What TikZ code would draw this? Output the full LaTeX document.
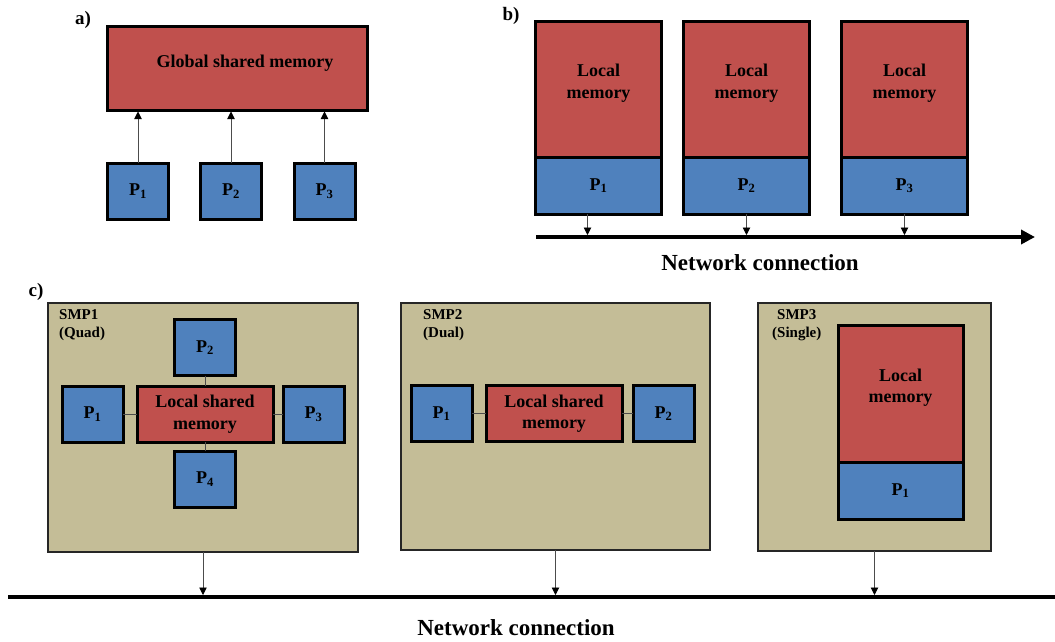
\documentclass[tikz,border=0pt]{standalone}
\usepackage{fontspec}
\setmainfont{Liberation Serif}
\usetikzlibrary{arrows.meta,calc}
\definecolor{memred}{HTML}{C0504D}
\definecolor{cpublue}{HTML}{4F81BD}
\definecolor{smptan}{HTML}{C4BD97}
\tikzset{
  boxtext/.style={font=\bfseries\fontsize{18}{21.5}\selectfont, align=center},
  unit/.style={draw=black, line width=3pt, inner sep=0pt, outer sep=0pt, boxtext},
  memblock/.style={unit, fill=memred},
  cpublock/.style={unit, fill=cpublue, minimum width=61pt, minimum height=56pt},
  smpbox/.style={draw=black!85, line width=1.2pt, fill=smptan, inner sep=0pt, outer sep=0pt, anchor=north west},
  smplabel/.style={font=\bfseries\fontsize{15}{18}\selectfont, align=left, anchor=north west, inner sep=0pt},
  panel/.style={font=\bfseries\fontsize{19}{22}\selectfont, inner sep=0pt},
  nettext/.style={font=\bfseries\fontsize{23}{26}\selectfont, inner sep=0pt},
  netline/.style={line width=4pt, black},
  link/.style={line width=1pt, black!70},
  feed/.style={line width=0.9pt, black!70, -{Triangle[length=7.5pt,width=7.5pt,color=black]}, shorten >=2pt}
}
\begin{document}
\begin{tikzpicture}[x=1pt,y=-1pt]
\useasboundingbox (0,0) rectangle (1055,641);

% ---- a) uniform shared memory ----
\node[panel] (la) at (83,20) {a)};
\node[memblock, minimum width=260pt, minimum height=84pt] (gm) at (237,68) {};
\node[boxtext, inner sep=0pt] (gmt) at (245,63) {Global shared memory};
\node[cpublock] (ap1) at (138,191) {P\textsubscript{1}};
\node[cpublock] (ap2) at (231,191) {P\textsubscript{2}};
\node[cpublock] (ap3) at (324.5,191) {P\textsubscript{3}};
\foreach \p in {ap1,ap2,ap3}
  \draw[feed, shorten >=1.5pt] (\p.north) -- (\p.north |- gm.south);

% ---- b) distributed memory ----
\node[panel] (lb) at (511,16) {b)};
\foreach \i/\x in {1/598.5, 2/746.5, 3/904.5}{
  \node[memblock, minimum width=126pt, minimum height=136pt] (bm\i) at (\x,89) {};
  \node[boxtext, inner sep=0pt] (bt\i) at ([yshift=6pt]bm\i.center) {Local\\memory};
  \node[unit, fill=cpublue, minimum width=126pt, minimum height=57pt, anchor=north] (bp\i) at (bm\i.south) {P\textsubscript{\i}};
}
\coordinate (nbL) at (536,237);
\coordinate (nbR) at (1035,237);
\draw[netline, -{Triangle[length=14pt,width=14pt]}] (nbL) -- (nbR);
\draw[feed] ([xshift=-11pt]bp1.south) -- ([xshift=-11pt]bp1.south |- nbL);
\draw[feed] (bp2.south) -- (bp2.south |- nbL);
\draw[feed] (bp3.south) -- (bp3.south |- nbL);
\node[nettext] (nbt) at (760,263) {Network connection};

% ---- c) clustered SMP nodes ----
\node[panel] (lc) at (36,292) {c)};

% SMP1: four processors around one memory
\node[smpbox, minimum width=310pt, minimum height=249pt] (s1) at (48,303) {};
\node[smplabel] (s1t) at (59,309) {SMP1\\(Quad)};
\node[memblock, minimum width=136pt, minimum height=56pt] (c1m) at (205,414) {Local shared\\memory};
\node[cpublock] (c1p1) at (92.5,414) {P\textsubscript{1}};
\node[cpublock] (c1p2) at (205,347.5) {P\textsubscript{2}};
\node[cpublock] (c1p3) at (313.5,414) {P\textsubscript{3}};
\node[cpublock] (c1p4) at (205,479) {P\textsubscript{4}};
\draw[link] (c1p1) -- (c1m);
\draw[link] (c1m) -- (c1p3);
\draw[link] (c1p2) -- (c1m);
\draw[link] (c1m) -- (c1p4);

% SMP2: two processors
\node[smpbox, minimum width=309pt, minimum height=247pt] (s2) at (401,303) {};
\node[smplabel] (s2t) at (423,309) {SMP2\\(Dual)};
\node[memblock, minimum width=136pt, minimum height=56pt] (c2m) at (554,413.5) {Local shared\\memory};
\node[cpublock] (c2p1) at (441.5,413.5) {P\textsubscript{1}};
\node[cpublock] (c2p2) at (663.5,413.5) {P\textsubscript{2}};
\draw[link] (c2p1) -- (c2m);
\draw[link] (c2m) -- (c2p2);

% SMP3: single processor
\node[smpbox, minimum width=233pt, minimum height=248pt] (s3) at (758,303) {};
\node[smplabel] (s3t) at (772,309) {\hspace*{5pt}SMP3\\(Single)};
\node[memblock, minimum width=125pt, minimum height=137pt] (c3m) at (900.5,393.5) {};
\node[boxtext, inner sep=0pt] (c3t) at ([yshift=6pt]c3m.center) {Local\\memory};
\node[unit, fill=cpublue, minimum width=125pt, minimum height=57pt, anchor=north] (c3p) at (c3m.south) {P\textsubscript{1}};

% network of the cluster
\coordinate (ncL) at (8,597);
\coordinate (ncR) at (1055,597);
\draw[netline] (ncL) -- (ncR);
\draw[feed] (s1.south) -- (s1.south |- ncL);
\draw[feed] (s2.south) -- (s2.south |- ncL);
\draw[feed] (s3.south) -- (s3.south |- ncL);
\node[nettext] (nct) at (516,628) {Network connection};
\end{tikzpicture}
\end{document}
